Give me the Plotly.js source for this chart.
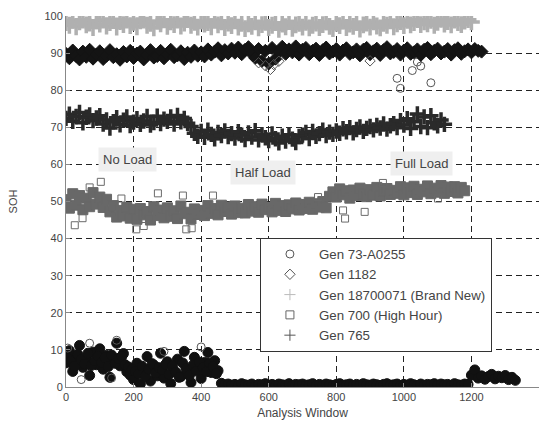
<!DOCTYPE html>
<html>
<head>
<meta charset="utf-8">
<script src="https://cdn.plot.ly/plotly-3.0.1.min.js"></script>
<style>html,body{margin:0;padding:0;background:#fff;}#chart{width:551px;height:424px;}</style>
</head>
<body>
<div id="chart"></div>
<script>
// Analysis window index (shared x positions, step 10)
const win = [0,10,20,30,40,50,60,70,80,90,100,110,120,130,140,150,160,170,180,190,
200,210,220,230,240,250,260,270,280,290,300,310,320,330,340,350,360,370,380,390,
400,410,420,430,440,450,460,470,480,490,500,510,520,530,540,550,560,570,580,590,
600,610,620,630,640,650,660,670,680,690,700,710,720,730,740,750,760,770,780,790,
800,810,820,830,840,850,860,870,880,890,900,910,920,930,940,950,960,970,980,990,
1000,1010,1020,1030,1040,1050,1060,1070,1080,1090,1100,1110,1120,1130,1140,1150,1160,1170,1180,1190,
1200,1210,1220,1230,1240,1250,1260,1270,1280,1290,1300,1310,1320,1330];
// Intermediate windows (5, 15, ... 445)
const winMid = [5,15,25,35,45,55,65,75,85,95,105,115,125,135,145,155,165,175,185,195,
205,215,225,235,245,255,265,275,285,295,305,315,325,335,345,355,365,375,385,395,
405,415,425,435,445];

const seriesNames = ["Gen 73-A0255","Gen 1182","Gen 18700071 (Brand New)","Gen 700 (High Hour)","Gen 765"];

// Gen 73-A0255 (circles), 0..1330
const sohGen73 = [6.5,9.8,4.2,8.1,11.2,5.3,7.6,3.1,9.4,6.0,
10.3,4.8,8.5,2.6,7.2,11.8,5.7,9.0,4.1,3.2,
2.0,6.4,0.8,4.5,8.2,1.6,5.9,3.0,9.1,2.4,
6.8,0.9,4.2,7.5,2.8,9.6,3.7,1.2,8.0,5.1,
2.3,6.6,9.3,3.9,7.1,4.4,1.0,0.6,0.8,0.5,
0.7,0.4,0.9,0.6,0.5,0.8,0.3,0.7,0.6,0.9,
0.5,0.7,0.4,0.8,0.6,0.5,0.9,0.4,0.7,0.6,
0.8,0.5,0.6,0.9,0.4,0.7,0.5,0.8,0.6,0.4,
0.7,0.9,0.5,0.6,0.8,0.4,0.7,0.5,0.9,0.6,
0.5,0.8,0.6,0.4,0.7,0.9,0.5,0.6,0.8,0.4,
0.7,0.5,0.9,0.6,0.4,0.8,0.5,0.7,0.6,0.9,
0.5,0.8,0.6,0.7,0.4,0.9,0.6,0.5,0.8,0.7,
3.2,4.6,2.4,3.0,2.1,2.8,3.4,2.2,2.9,2.5,
3.1,2.0,2.6,1.8];
// Gen 73-A0255 intermediate readings, 5..445
const sohGen73Mid = [7.8,6.9,5.6,8.8,7.4,6.2,9.1,5.8,7.0,8.3,
6.6,7.9,5.5,8.6,6.4,7.7,8.2,6.0,5.4,4.8,
4.2,3.5,5.6,2.9,4.8,6.3,3.8,5.2,4.6,6.1,
3.4,5.7,4.0,2.6,6.5,4.9,3.1,5.8,4.3,6.7,
5.2,4.1,6.4,5.5,3.6];
// Gen 73-A0255 scattered points
const outlierWin73 = [5,45,70,150,135,290,400,980,990,1025,1040,1050,1080];
const outlierSOH73 = [10.5,2.0,11.8,12.6,2.4,9.6,10.8,83.2,80.5,85.3,87.6,86.5,82.0];

// Gen 1182 (diamonds), 0..1230
const sohGen1182 = [89.8,88.6,90.7,89.2,88.3,90.4,89.0,90.9,88.5,89.6,
90.5,88.4,89.3,90.8,88.9,89.7,88.2,90.3,89.1,90.6,
88.7,89.9,90.4,88.3,89.5,90.8,88.8,89.2,90.6,88.6,
89.7,90.9,88.9,89.4,90.5,88.4,90.1,89.0,90.7,89.3,
90.2,89.1,91.0,89.6,90.4,91.3,89.4,90.8,89.9,91.2,
90.1,91.5,89.7,90.9,91.6,89.8,88.7,91.1,87.9,90.6,
87.2,91.4,88.5,90.3,91.7,89.8,91.0,90.2,91.8,89.6,
90.9,91.4,89.7,90.6,91.2,89.5,90.8,91.5,89.9,90.4,
91.1,89.6,90.7,91.3,89.8,90.2,91.0,89.4,90.9,91.4,
89.7,90.5,91.2,89.5,90.8,91.6,89.9,90.3,91.1,89.6,
90.7,91.3,89.8,90.2,91.0,89.5,90.9,91.4,89.7,90.6,
91.2,89.9,90.4,91.1,89.6,90.8,91.3,89.8,90.5,91.0,
90.2,91.1,90.6,90.4];
// Gen 1182 points below the band
const outlierWin1182 = [570,590,605,615,630,900];
const outlierSOH1182 = [87.4,86.6,85.6,86.9,87.8,87.9];

// Gen 18700071 (Brand New), 0..1200
const sohBrandNew = [98.2,97.5,98.8,97.1,98.4,99.0,97.6,98.1,96.9,98.7,
97.8,98.9,97.3,98.2,99.1,97.0,98.5,97.7,98.9,97.4,
98.3,97.1,98.7,99.2,97.5,98.0,96.8,98.6,97.9,99.0,
97.2,98.4,97.7,98.9,97.3,98.1,99.0,97.5,98.3,97.0,
98.6,97.8,98.2,97.1,98.9,97.6,98.4,96.9,98.1,97.4,
98.7,97.0,98.0,96.6,97.9,97.2,98.4,96.8,97.7,98.3,
96.9,97.5,98.2,96.4,97.8,97.1,98.5,96.7,97.6,98.0,
97.0,98.3,96.8,97.5,98.1,96.9,97.7,98.4,97.2,96.6,
98.0,97.4,98.6,96.9,97.8,97.2,98.3,96.5,97.6,98.1,
97.0,98.4,97.3,96.8,98.0,97.5,98.7,97.1,97.9,98.5,
97.4,98.8,97.6,98.2,99.0,97.7,98.4,97.9,98.8,97.5,
98.3,99.1,97.8,98.5,97.6,98.9,98.2,97.7,98.6,99.0,
98.4];

// Gen 700 (High Hour), 0..1180
const sohGen700 = [50.5,48.2,52.1,49.0,51.6,47.8,50.9,48.6,52.4,49.3,
51.2,48.4,50.6,47.2,48.9,45.8,47.6,46.1,48.4,45.5,
47.9,45.2,48.1,46.4,47.3,45.0,48.6,46.2,47.7,45.6,
48.3,46.0,47.5,45.4,48.8,46.7,47.1,45.3,48.0,46.5,
47.6,46.2,48.9,46.8,48.1,46.4,49.0,47.3,48.5,46.6,
48.8,47.0,48.2,46.9,49.2,47.4,48.6,47.1,49.3,47.8,
48.4,47.2,49.5,47.6,48.9,47.3,49.1,48.0,49.6,47.7,
49.2,48.1,49.8,47.9,49.4,48.5,50.0,48.3,51.4,52.6,
51.2,53.4,51.8,52.9,50.9,53.1,51.6,53.6,52.0,51.3,
53.2,51.7,53.8,51.5,52.8,53.5,51.9,53.0,52.2,54.0,
51.8,53.7,52.4,54.1,51.9,53.3,52.6,54.2,52.1,53.6,
52.5,54.3,52.2,53.9,52.7,54.0,52.3,53.8,52.9];
// Gen 700 scattered points
const outlierWin700 = [26,49,70,103,164,208,230,272,346,356,372,435,746,820,826,884,938,1101];
const outlierSOH700 = [43.6,45.5,53.8,55.3,50.8,42.5,43.4,52.2,51.6,42.5,42.8,51.6,51.2,47.6,45.4,47.2,55.0,50.8];

// Gen 765, 0..1120
const sohGen765 = [72.4,73.5,71.6,72.9,74.0,71.2,72.7,73.3,71.8,72.5,
73.1,70.9,72.0,69.8,71.5,72.6,70.7,71.9,72.8,70.5,
71.4,72.3,70.8,71.7,72.9,70.6,71.3,73.0,71.0,72.2,
71.6,72.8,70.9,73.2,71.5,72.4,71.1,70.2,68.4,67.6,
68.9,67.3,69.2,68.1,66.9,68.6,67.8,69.0,67.5,68.3,
67.1,68.8,67.9,66.7,68.5,67.4,69.1,66.6,68.0,67.2,
66.4,68.2,66.9,65.8,67.6,66.3,68.0,66.8,65.9,67.5,
67.9,68.6,67.0,68.9,67.6,68.3,69.2,67.8,68.7,68.1,
69.0,68.4,69.6,68.8,69.9,68.5,69.4,70.1,68.9,69.7,
70.2,69.3,70.5,69.8,70.9,69.5,70.4,71.0,69.9,71.8,
70.6,72.3,69.7,71.5,73.6,70.2,72.8,69.9,73.1,71.2,
70.4,72.0,70.8];

const loadLabels = ["No Load","Half Load","Full Load"];
const loadX = [182,582,1052];
const loadY = [61.4,57.7,60.2];

const font = 'Arial, Liberation Sans, sans-serif';

function dataTrace(name, ys, xs, symbol, color, size, lw){
  return {
    type:'scatter', mode:'markers', name:name,
    x: xs || win.slice(0, ys.length), y: ys,
    showlegend:false, legendgroup:name,
    marker:{symbol:symbol, size:size, color:color, line:{color:color, width:lw}}
  };
}
function legendTrace(name, symbol, color){
  return {
    type:'scatter', mode:'markers', name:name, x:[null], y:[null],
    showlegend:true, legendgroup:name,
    marker:{symbol:symbol, size:8, color:color, line:{color:color, width:1}}
  };
}

const traces = [
  dataTrace(seriesNames[0], sohGen73, null, 'circle', '#111', 10, 1),
  dataTrace(seriesNames[0], sohGen73Mid, winMid, 'circle', '#111', 10, 1),
  dataTrace(seriesNames[0], outlierSOH73, outlierWin73, 'circle-open', '#555', 8, 1),
  dataTrace(seriesNames[1], sohGen1182, null, 'diamond', '#141414', 10, 1),
  dataTrace(seriesNames[1], outlierSOH1182, outlierWin1182, 'diamond-open', '#555', 8, 1),
  dataTrace(seriesNames[2], sohBrandNew, null, 'cross-thin-open', '#b0b0b0', 12, 3.5),
  dataTrace(seriesNames[3], sohGen700, null, 'square', '#686868', 10, 1),
  dataTrace(seriesNames[3], outlierSOH700, outlierWin700, 'square-open', '#6a6a6a', 7, 1),
  dataTrace(seriesNames[4], sohGen765, null, 'cross-thin-open', '#2a2a2a', 11, 3.5),
  legendTrace(seriesNames[0], 'circle-open', '#555'),
  legendTrace(seriesNames[1], 'diamond-open', '#555'),
  legendTrace(seriesNames[2], 'cross-thin-open', '#bbb'),
  legendTrace(seriesNames[3], 'square-open', '#666'),
  legendTrace(seriesNames[4], 'cross-thin-open', '#555')
];

const tickFont = {family:font, size:11, color:'#444'};

const layout = {
  width:551, height:424,
  margin:{l:66, r:12, t:16, b:37, pad:0},
  paper_bgcolor:'#fff', plot_bgcolor:'#fff',
  showlegend:true,
  xaxis:{
    range:[0,1400], tickvals:[0,200,400,600,800,1000,1200,1400],
    showgrid:true, gridcolor:'#222', griddash:'6px,4px', gridwidth:1,
    zeroline:false, showline:true, linecolor:'#888', linewidth:1, mirror:false,
    ticks:'inside', ticklen:4, tickcolor:'#888',
    tickfont:tickFont, automargin:false,
    title:{text:'Analysis Window', font:{family:font, size:12, color:'#444'}, standoff:6}
  },
  yaxis:{
    range:[0,100], tickvals:[0,10,20,30,40,50,60,70,80,90,100],
    showgrid:true, gridcolor:'#222', griddash:'6px,4px', gridwidth:1,
    zeroline:false, showline:true, linecolor:'#888', linewidth:1, mirror:false,
    ticks:'inside', ticklen:4, tickcolor:'#888',
    tickfont:tickFont, automargin:false,
    title:{text:'SOH', font:{family:font, size:11, color:'#444'}, standoff:24}
  },
  legend:{
    x:0.41, y:0.402, xanchor:'left', yanchor:'top',
    bgcolor:'#fff', bordercolor:'#333', borderwidth:1,
    font:{family:font, size:13.3, color:'#444'},
    itemwidth:48, tracegroupgap:0
  },
  annotations: loadLabels.map((t,i)=>({
    x:loadX[i], y:loadY[i], xref:'x', yref:'y', text:t, showarrow:false,
    font:{family:font, size:13, color:'#444'},
    bgcolor:'#efefef', borderpad:4
  }))
};

Plotly.newPlot('chart', traces, layout, {displayModeBar:false, staticPlot:true});
</script>
</body>
</html>
